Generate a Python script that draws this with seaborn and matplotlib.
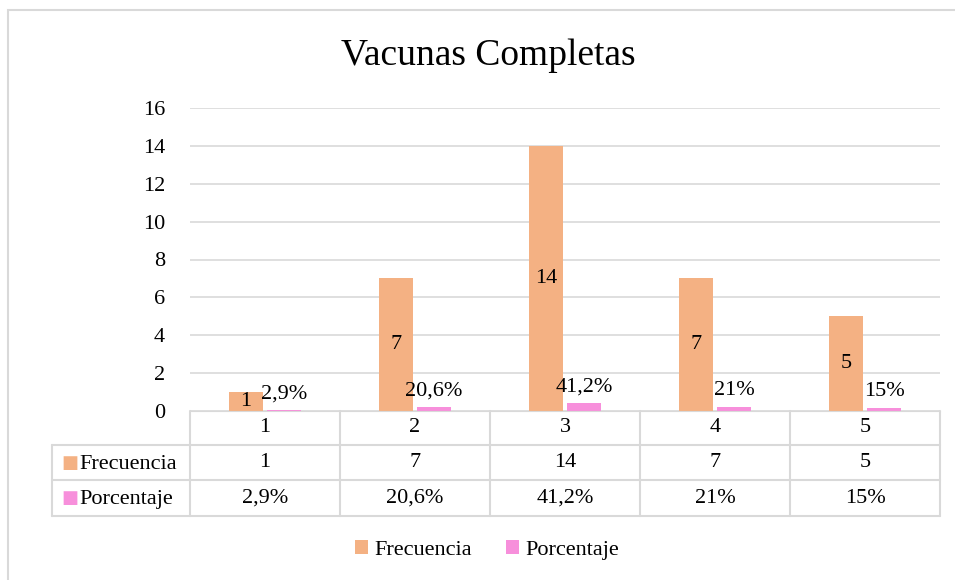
import numpy as np
import pandas as pd
import matplotlib
matplotlib.use("Agg")
import matplotlib.pyplot as plt
import matplotlib.transforms as mtransforms
from matplotlib.patches import Rectangle, Patch
import seaborn as sns

# datos
categorias = ["1", "2", "3", "4", "5"]
frecuencia = [1, 7, 14, 7, 5]
porcentaje = [0.029, 0.206, 0.412, 0.21, 0.15]
etiquetas_pct = ["2,9%", "20,6%", "41,2%", "21%", "15%"]
series = ["Frecuencia", "Porcentaje"]
colores = ["#F4B183", "#F78FDB"]

df = pd.DataFrame({
    "categoria": categorias * 2,
    "valor": frecuencia + porcentaje,
    "serie": ["Frecuencia"] * 5 + ["Porcentaje"] * 5,
})

sns.set_style("white")
plt.rcParams["font.family"] = ["Liberation Serif", "DejaVu Serif"]
plt.rcParams["text.color"] = "black"
plt.rcParams["ytick.color"] = "black"

fig = plt.figure(figsize=(9.55, 5.8), dpi=100)
W, H = 955, 580
ax = fig.add_axes([190 / W, 1 - 411 / H, 750 / W, 303 / H])

# marco exterior
fig.patches.append(Rectangle((8 / W, -0.05), 1.1, 1 - 10 / H + 0.05,
                             transform=fig.transFigure, fill=False,
                             edgecolor="#D9D9D9", linewidth=1.5))

sns.barplot(data=df, x="categoria", y="valor", hue="serie",
            palette=colores, saturation=1, width=0.51, gap=0.1, ax=ax,
            legend=False, linewidth=0)

ax.set_ylim(0, 16)
ax.set_yticks(range(0, 17, 2))
ax.set_xlim(-0.5, 4.5)
ax.set_xticks([])
ax.set_xlabel("")
ax.set_ylabel("")
ax.yaxis.grid(True, color="#D9D9D9", linewidth=1.2)
ax.set_axisbelow(True)
for s in ["left", "right", "top"]:
    ax.spines[s].set_visible(False)
ax.spines["bottom"].set_color("#D9D9D9")
ax.tick_params(axis="y", length=0, pad=18, labelsize=16)

# etiquetas de datos
cont_f, cont_p = ax.containers[0], ax.containers[1]
ax.bar_label(cont_f, labels=[str(v) for v in frecuencia], label_type="center",
             fontsize=16)
ax.bar_label(cont_p, labels=etiquetas_pct, padding=5, fontsize=16)

fig.suptitle("Vacunas Completas", fontsize=27, x=488 / W, y=1 - 56 / H,
             va="center")

# tabla de datos
trans = mtransforms.blended_transform_factory(ax.transData, ax.transAxes)
px = 1 / 303
y_rows = [0, -34 * px, -69 * px, -105 * px]
x_left = -1.42
lc = "#D9D9D9"
for i in range(6):
    ax.plot([i - 0.5, i - 0.5], [y_rows[0], y_rows[3]], color=lc, lw=1.5,
            transform=trans, clip_on=False)
ax.plot([x_left, x_left], [y_rows[1], y_rows[3]], color=lc, lw=1.5,
        transform=trans, clip_on=False)
for y in y_rows[1:]:
    ax.plot([x_left, 4.5], [y, y], color=lc, lw=1.5, transform=trans,
            clip_on=False)

filas = [categorias, [str(v) for v in frecuencia], etiquetas_pct]
for r, fila in enumerate(filas):
    yc = (y_rows[r] + y_rows[r + 1]) / 2
    for i, txt in enumerate(fila):
        ax.text(i, yc, txt, ha="center", va="center", fontsize=16,
                transform=trans, clip_on=False)
for r, (nombre, col) in enumerate(zip(series, colores), start=1):
    yc = (y_rows[r] + y_rows[r + 1]) / 2
    ax.text(x_left + 0.06, yc, "\u25A0", color=col, ha="left", va="center",
            fontsize=13, family="DejaVu Sans", transform=trans, clip_on=False)
    ax.text(x_left + 0.18, yc - 0.005, nombre, ha="left", va="center",
            fontsize=16, transform=trans, clip_on=False)

# leyenda
handles = [Patch(facecolor=c, edgecolor="none") for c in colores]
fig.legend(handles, series, loc="center", bbox_to_anchor=(0.51, 1 - 550 / H),
           ncol=2, frameon=False, fontsize=16, handlelength=0.6,
           handleheight=0.6, handletextpad=0.3, columnspacing=1.5)

fig.savefig("out.png", dpi=100)
